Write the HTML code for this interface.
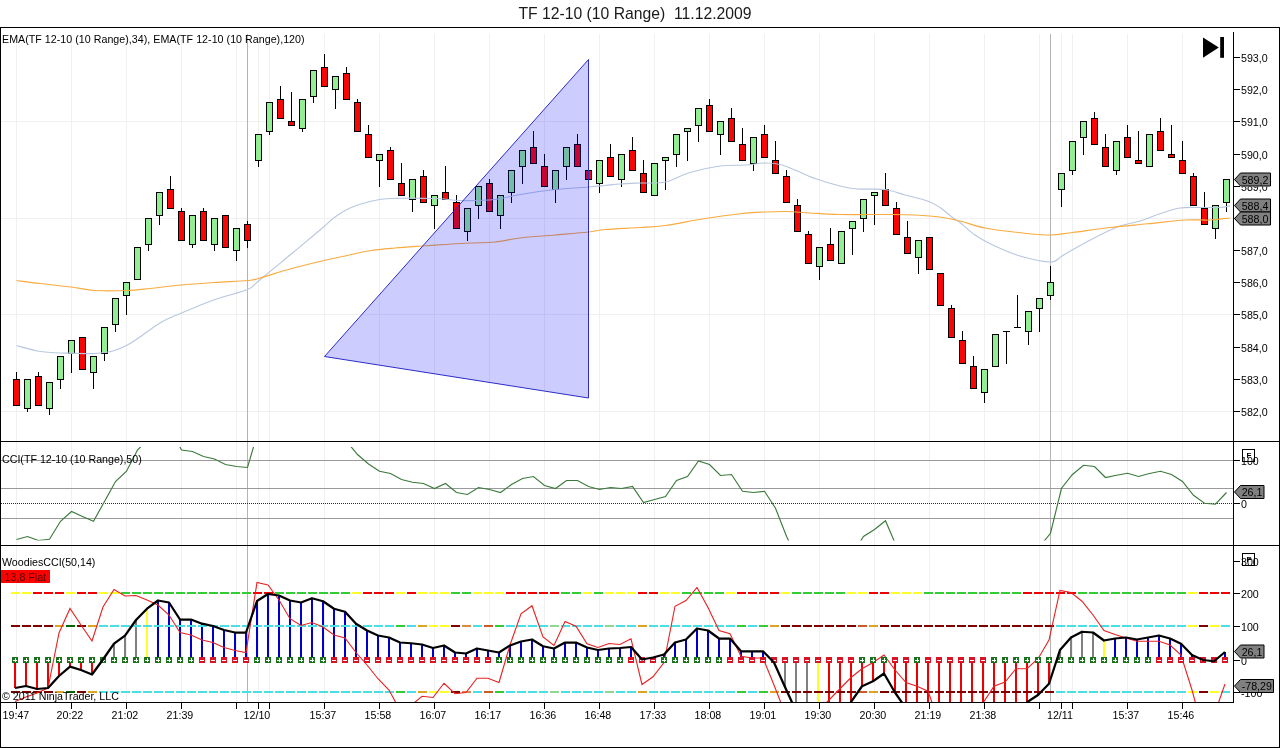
<!DOCTYPE html><html><head><meta charset="utf-8"><title>TF 12-10 (10 Range) 11.12.2009</title>
<style>html,body{margin:0;padding:0;background:#fff}svg{display:block}text{font-family:"Liberation Sans",Arial,sans-serif;fill:#000}.s{font-size:10.67px}.t{font-size:15.72px;fill:#1a1a1a}.c{shape-rendering:crispEdges}</style></head><body>
<svg width="1280" height="748" viewBox="0 0 1280 748">
<rect width="1280" height="748" fill="#fff"/>
<g class="c" stroke="#f0f0f0" stroke-width="1">
<line x1="16.5" y1="34" x2="16.5" y2="702"/>
<line x1="71.5" y1="34" x2="71.5" y2="702"/>
<line x1="126.5" y1="34" x2="126.5" y2="702"/>
<line x1="181.5" y1="34" x2="181.5" y2="702"/>
<line x1="236.5" y1="34" x2="236.5" y2="702"/>
<line x1="258.5" y1="34" x2="258.5" y2="702"/>
<line x1="269.5" y1="34" x2="269.5" y2="702"/>
<line x1="324.5" y1="34" x2="324.5" y2="702"/>
<line x1="379.5" y1="34" x2="379.5" y2="702"/>
<line x1="434.5" y1="34" x2="434.5" y2="702"/>
<line x1="489.5" y1="34" x2="489.5" y2="702"/>
<line x1="544.5" y1="34" x2="544.5" y2="702"/>
<line x1="599.5" y1="34" x2="599.5" y2="702"/>
<line x1="654.5" y1="34" x2="654.5" y2="702"/>
<line x1="709.5" y1="34" x2="709.5" y2="702"/>
<line x1="764.5" y1="34" x2="764.5" y2="702"/>
<line x1="819.5" y1="34" x2="819.5" y2="702"/>
<line x1="874.5" y1="34" x2="874.5" y2="702"/>
<line x1="929.5" y1="34" x2="929.5" y2="702"/>
<line x1="984.5" y1="34" x2="984.5" y2="702"/>
<line x1="1039.5" y1="34" x2="1039.5" y2="702"/>
<line x1="1061.5" y1="34" x2="1061.5" y2="702"/>
<line x1="1072.5" y1="34" x2="1072.5" y2="702"/>
<line x1="1127.5" y1="34" x2="1127.5" y2="702"/>
<line x1="1182.5" y1="34" x2="1182.5" y2="702"/>
<line x1="1" y1="121.5" x2="1233" y2="121.5"/>
<line x1="1" y1="218.5" x2="1233" y2="218.5"/>
<line x1="1" y1="314.5" x2="1233" y2="314.5"/>
<line x1="1" y1="411.5" x2="1233" y2="411.5"/>
</g>
<g class="c" stroke="#b4b4b4" stroke-width="1">
<line x1="247.5" y1="34" x2="247.5" y2="702"/>
<line x1="1050.5" y1="34" x2="1050.5" y2="702"/>
</g>
<g class="c" stroke="#000" stroke-width="1">
<line x1="16.5" y1="372.0" x2="16.5" y2="379.5"/>
<rect x="13.5" y="379.5" width="6" height="26.0" fill="#fb0404"/>
<line x1="27.5" y1="408.5" x2="27.5" y2="412.0"/>
<rect x="24.5" y="379.5" width="6" height="29.0" fill="#92ee92"/>
<line x1="38.5" y1="372.0" x2="38.5" y2="376.5"/>
<rect x="35.5" y="376.5" width="6" height="29.0" fill="#fb0404"/>
<line x1="49.5" y1="408.5" x2="49.5" y2="415.0"/>
<rect x="46.5" y="382.5" width="6" height="26.0" fill="#92ee92"/>
<line x1="60.5" y1="379.5" x2="60.5" y2="389.0"/>
<rect x="57.5" y="356.5" width="6" height="23.0" fill="#92ee92"/>
<line x1="71.5" y1="353.5" x2="71.5" y2="373.0"/>
<rect x="68.5" y="340.5" width="6" height="13.0" fill="#92ee92"/>
<rect x="79.5" y="337.5" width="6" height="32.0" fill="#fb0404"/>
<line x1="93.5" y1="372.5" x2="93.5" y2="389.0"/>
<rect x="90.5" y="356.5" width="6" height="16.0" fill="#92ee92"/>
<line x1="104.5" y1="353.5" x2="104.5" y2="361.0"/>
<rect x="101.5" y="327.5" width="6" height="26.0" fill="#92ee92"/>
<line x1="115.5" y1="324.5" x2="115.5" y2="332.0"/>
<rect x="112.5" y="298.5" width="6" height="26.0" fill="#92ee92"/>
<line x1="126.5" y1="295.5" x2="126.5" y2="315.0"/>
<rect x="123.5" y="282.5" width="6" height="13.0" fill="#92ee92"/>
<rect x="134.5" y="247.5" width="6" height="32.0" fill="#92ee92"/>
<line x1="148.5" y1="244.5" x2="148.5" y2="251.0"/>
<rect x="145.5" y="218.5" width="6" height="26.0" fill="#92ee92"/>
<line x1="159.5" y1="215.5" x2="159.5" y2="225.0"/>
<rect x="156.5" y="192.5" width="6" height="23.0" fill="#92ee92"/>
<line x1="170.5" y1="175.5" x2="170.5" y2="189.5"/>
<rect x="167.5" y="189.5" width="6" height="19.0" fill="#fb0404"/>
<line x1="181.5" y1="208.0" x2="181.5" y2="211.5"/>
<rect x="178.5" y="211.5" width="6" height="29.0" fill="#fb0404"/>
<line x1="192.5" y1="244.5" x2="192.5" y2="248.0"/>
<rect x="189.5" y="215.5" width="6" height="29.0" fill="#92ee92"/>
<line x1="203.5" y1="208.0" x2="203.5" y2="211.5"/>
<rect x="200.5" y="211.5" width="6" height="29.0" fill="#fb0404"/>
<line x1="214.5" y1="244.5" x2="214.5" y2="251.0"/>
<rect x="211.5" y="218.5" width="6" height="26.0" fill="#92ee92"/>
<rect x="222.5" y="215.5" width="6" height="32.0" fill="#fb0404"/>
<line x1="236.5" y1="250.5" x2="236.5" y2="261.0"/>
<rect x="233.5" y="228.5" width="6" height="22.0" fill="#92ee92"/>
<line x1="247.5" y1="221.0" x2="247.5" y2="224.5"/>
<line x1="247.5" y1="240.5" x2="247.5" y2="248.0"/>
<rect x="244.5" y="224.5" width="6" height="16.0" fill="#fb0404"/>
<line x1="258.5" y1="160.5" x2="258.5" y2="167.0"/>
<rect x="255.5" y="134.5" width="6" height="26.0" fill="#92ee92"/>
<line x1="269.5" y1="131.5" x2="269.5" y2="135.0"/>
<rect x="266.5" y="102.5" width="6" height="29.0" fill="#92ee92"/>
<line x1="280.5" y1="85.5" x2="280.5" y2="99.5"/>
<rect x="277.5" y="99.5" width="6" height="19.0" fill="#fb0404"/>
<line x1="291.5" y1="92.0" x2="291.5" y2="121.5"/>
<rect x="288.5" y="121.5" width="6" height="4.0" fill="#fb0404"/>
<line x1="302.5" y1="128.5" x2="302.5" y2="132.0"/>
<rect x="299.5" y="99.5" width="6" height="29.0" fill="#92ee92"/>
<line x1="313.5" y1="96.5" x2="313.5" y2="103.0"/>
<rect x="310.5" y="70.5" width="6" height="26.0" fill="#92ee92"/>
<line x1="324.5" y1="54.0" x2="324.5" y2="67.5"/>
<rect x="321.5" y="67.5" width="6" height="19.0" fill="#fb0404"/>
<line x1="335.5" y1="89.5" x2="335.5" y2="109.0"/>
<rect x="332.5" y="76.5" width="6" height="13.0" fill="#92ee92"/>
<line x1="346.5" y1="66.5" x2="346.5" y2="73.5"/>
<rect x="343.5" y="73.5" width="6" height="26.0" fill="#fb0404"/>
<line x1="357.5" y1="99.0" x2="357.5" y2="102.5"/>
<rect x="354.5" y="102.5" width="6" height="29.0" fill="#fb0404"/>
<line x1="368.5" y1="124.5" x2="368.5" y2="134.5"/>
<rect x="365.5" y="134.5" width="6" height="23.0" fill="#fb0404"/>
<line x1="379.5" y1="160.5" x2="379.5" y2="187.0"/>
<rect x="376.5" y="154.5" width="6" height="6.0" fill="#92ee92"/>
<line x1="390.5" y1="147.0" x2="390.5" y2="150.5"/>
<rect x="387.5" y="150.5" width="6" height="29.0" fill="#fb0404"/>
<line x1="401.5" y1="163.0" x2="401.5" y2="183.5"/>
<rect x="398.5" y="183.5" width="6" height="12.0" fill="#fb0404"/>
<line x1="412.5" y1="199.5" x2="412.5" y2="212.0"/>
<rect x="409.5" y="179.5" width="6" height="20.0" fill="#92ee92"/>
<line x1="423.5" y1="169.5" x2="423.5" y2="176.5"/>
<rect x="420.5" y="176.5" width="6" height="26.0" fill="#fb0404"/>
<line x1="434.5" y1="205.5" x2="434.5" y2="229.0"/>
<rect x="431.5" y="195.5" width="6" height="10.0" fill="#92ee92"/>
<line x1="445.5" y1="165.5" x2="445.5" y2="192.5"/>
<rect x="442.5" y="192.5" width="6" height="7.0" fill="#fb0404"/>
<line x1="456.5" y1="195.0" x2="456.5" y2="202.5"/>
<rect x="453.5" y="202.5" width="6" height="26.0" fill="#fb0404"/>
<line x1="467.5" y1="231.5" x2="467.5" y2="241.0"/>
<rect x="464.5" y="208.5" width="6" height="23.0" fill="#92ee92"/>
<line x1="478.5" y1="205.5" x2="478.5" y2="219.0"/>
<rect x="475.5" y="186.5" width="6" height="19.0" fill="#92ee92"/>
<line x1="489.5" y1="178.5" x2="489.5" y2="183.5"/>
<rect x="486.5" y="183.5" width="6" height="28.0" fill="#fb0404"/>
<line x1="500.5" y1="215.5" x2="500.5" y2="229.0"/>
<rect x="497.5" y="195.5" width="6" height="20.0" fill="#92ee92"/>
<line x1="511.5" y1="192.5" x2="511.5" y2="203.0"/>
<rect x="508.5" y="170.5" width="6" height="22.0" fill="#92ee92"/>
<line x1="522.5" y1="166.5" x2="522.5" y2="184.0"/>
<rect x="519.5" y="150.5" width="6" height="16.0" fill="#92ee92"/>
<line x1="533.5" y1="130.5" x2="533.5" y2="147.5"/>
<rect x="530.5" y="147.5" width="6" height="16.0" fill="#fb0404"/>
<line x1="544.5" y1="154.0" x2="544.5" y2="166.5"/>
<rect x="541.5" y="166.5" width="6" height="20.0" fill="#fb0404"/>
<line x1="555.5" y1="189.5" x2="555.5" y2="203.0"/>
<rect x="552.5" y="170.5" width="6" height="19.0" fill="#92ee92"/>
<line x1="566.5" y1="166.5" x2="566.5" y2="180.0"/>
<rect x="563.5" y="147.5" width="6" height="19.0" fill="#92ee92"/>
<line x1="577.5" y1="134.0" x2="577.5" y2="144.5"/>
<rect x="574.5" y="144.5" width="6" height="22.0" fill="#fb0404"/>
<rect x="585.5" y="170.5" width="6" height="9.0" fill="#fb0404"/>
<line x1="599.5" y1="183.5" x2="599.5" y2="193.0"/>
<rect x="596.5" y="160.5" width="6" height="23.0" fill="#92ee92"/>
<line x1="610.5" y1="143.5" x2="610.5" y2="157.5"/>
<rect x="607.5" y="157.5" width="6" height="19.0" fill="#fb0404"/>
<line x1="621.5" y1="179.5" x2="621.5" y2="187.0"/>
<rect x="618.5" y="154.5" width="6" height="25.0" fill="#92ee92"/>
<line x1="632.5" y1="136.5" x2="632.5" y2="150.5"/>
<rect x="629.5" y="150.5" width="6" height="20.0" fill="#fb0404"/>
<line x1="643.5" y1="159.5" x2="643.5" y2="173.5"/>
<rect x="640.5" y="173.5" width="6" height="19.0" fill="#fb0404"/>
<rect x="651.5" y="163.5" width="6" height="32.0" fill="#92ee92"/>
<line x1="665.5" y1="160.5" x2="665.5" y2="190.0"/>
<rect x="662.5" y="157.5" width="6" height="3.0" fill="#92ee92"/>
<line x1="676.5" y1="154.5" x2="676.5" y2="167.0"/>
<rect x="673.5" y="134.5" width="6" height="20.0" fill="#92ee92"/>
<line x1="687.5" y1="131.5" x2="687.5" y2="161.0"/>
<rect x="684.5" y="128.5" width="6" height="3.0" fill="#92ee92"/>
<line x1="698.5" y1="125.5" x2="698.5" y2="142.0"/>
<rect x="695.5" y="108.5" width="6" height="17.0" fill="#92ee92"/>
<line x1="709.5" y1="98.5" x2="709.5" y2="105.5"/>
<rect x="706.5" y="105.5" width="6" height="26.0" fill="#fb0404"/>
<line x1="720.5" y1="134.5" x2="720.5" y2="155.0"/>
<rect x="717.5" y="121.5" width="6" height="13.0" fill="#92ee92"/>
<line x1="731.5" y1="108.0" x2="731.5" y2="118.5"/>
<rect x="728.5" y="118.5" width="6" height="23.0" fill="#fb0404"/>
<line x1="742.5" y1="127.5" x2="742.5" y2="144.5"/>
<rect x="739.5" y="144.5" width="6" height="16.0" fill="#fb0404"/>
<line x1="753.5" y1="163.5" x2="753.5" y2="171.0"/>
<rect x="750.5" y="137.5" width="6" height="26.0" fill="#92ee92"/>
<line x1="764.5" y1="124.5" x2="764.5" y2="134.5"/>
<rect x="761.5" y="134.5" width="6" height="23.0" fill="#fb0404"/>
<line x1="775.5" y1="140.5" x2="775.5" y2="160.5"/>
<rect x="772.5" y="160.5" width="6" height="13.0" fill="#fb0404"/>
<line x1="786.5" y1="169.5" x2="786.5" y2="176.5"/>
<rect x="783.5" y="176.5" width="6" height="26.0" fill="#fb0404"/>
<line x1="797.5" y1="199.0" x2="797.5" y2="205.5"/>
<rect x="794.5" y="205.5" width="6" height="26.0" fill="#fb0404"/>
<line x1="808.5" y1="231.0" x2="808.5" y2="234.5"/>
<rect x="805.5" y="234.5" width="6" height="29.0" fill="#fb0404"/>
<line x1="819.5" y1="266.5" x2="819.5" y2="280.0"/>
<rect x="816.5" y="247.5" width="6" height="19.0" fill="#92ee92"/>
<line x1="830.5" y1="228.0" x2="830.5" y2="244.5"/>
<rect x="827.5" y="244.5" width="6" height="16.0" fill="#fb0404"/>
<rect x="838.5" y="231.5" width="6" height="32.0" fill="#92ee92"/>
<line x1="852.5" y1="228.5" x2="852.5" y2="254.5"/>
<rect x="849.5" y="221.5" width="6" height="7.0" fill="#92ee92"/>
<line x1="863.5" y1="218.5" x2="863.5" y2="232.0"/>
<rect x="860.5" y="199.5" width="6" height="19.0" fill="#92ee92"/>
<line x1="874.5" y1="195.5" x2="874.5" y2="225.0"/>
<rect x="871.5" y="192.5" width="6" height="3.0" fill="#92ee92"/>
<line x1="885.5" y1="172.5" x2="885.5" y2="189.5"/>
<rect x="882.5" y="189.5" width="6" height="16.0" fill="#fb0404"/>
<line x1="896.5" y1="202.0" x2="896.5" y2="208.5"/>
<rect x="893.5" y="208.5" width="6" height="26.0" fill="#fb0404"/>
<line x1="907.5" y1="221.0" x2="907.5" y2="237.5"/>
<rect x="904.5" y="237.5" width="6" height="16.0" fill="#fb0404"/>
<line x1="918.5" y1="257.5" x2="918.5" y2="274.0"/>
<rect x="915.5" y="240.5" width="6" height="17.0" fill="#92ee92"/>
<rect x="926.5" y="237.5" width="6" height="32.0" fill="#fb0404"/>
<rect x="937.5" y="273.5" width="6" height="32.0" fill="#fb0404"/>
<line x1="951.5" y1="304.5" x2="951.5" y2="308.5"/>
<rect x="948.5" y="308.5" width="6" height="29.0" fill="#fb0404"/>
<line x1="962.5" y1="330.5" x2="962.5" y2="340.5"/>
<rect x="959.5" y="340.5" width="6" height="23.0" fill="#fb0404"/>
<line x1="973.5" y1="355.5" x2="973.5" y2="366.5"/>
<rect x="970.5" y="366.5" width="6" height="22.0" fill="#fb0404"/>
<line x1="984.5" y1="392.5" x2="984.5" y2="402.5"/>
<rect x="981.5" y="369.5" width="6" height="23.0" fill="#92ee92"/>
<rect x="992.5" y="334.5" width="6" height="32.0" fill="#92ee92"/>
<line x1="1006.5" y1="331.5" x2="1006.5" y2="364.0"/>
<line x1="1003.0" y1="331.5" x2="1010.0" y2="331.5"/>
<line x1="1017.5" y1="294.5" x2="1017.5" y2="327.5"/>
<line x1="1014.0" y1="327.5" x2="1021.0" y2="327.5"/>
<line x1="1028.5" y1="331.5" x2="1028.5" y2="344.5"/>
<rect x="1025.5" y="311.5" width="6" height="20.0" fill="#92ee92"/>
<line x1="1039.5" y1="308.5" x2="1039.5" y2="332.0"/>
<rect x="1036.5" y="298.5" width="6" height="10.0" fill="#92ee92"/>
<line x1="1050.5" y1="265.5" x2="1050.5" y2="282.5"/>
<line x1="1050.5" y1="295.5" x2="1050.5" y2="299.5"/>
<rect x="1047.5" y="282.5" width="6" height="13.0" fill="#92ee92"/>
<line x1="1061.5" y1="189.5" x2="1061.5" y2="206.5"/>
<rect x="1058.5" y="173.5" width="6" height="16.0" fill="#92ee92"/>
<line x1="1072.5" y1="170.5" x2="1072.5" y2="174.5"/>
<rect x="1069.5" y="141.5" width="6" height="29.0" fill="#92ee92"/>
<line x1="1083.5" y1="137.5" x2="1083.5" y2="155.0"/>
<rect x="1080.5" y="121.5" width="6" height="16.0" fill="#92ee92"/>
<line x1="1094.5" y1="111.5" x2="1094.5" y2="118.5"/>
<rect x="1091.5" y="118.5" width="6" height="26.0" fill="#fb0404"/>
<line x1="1105.5" y1="133.5" x2="1105.5" y2="147.5"/>
<rect x="1102.5" y="147.5" width="6" height="19.0" fill="#fb0404"/>
<line x1="1116.5" y1="170.5" x2="1116.5" y2="174.5"/>
<rect x="1113.5" y="141.5" width="6" height="29.0" fill="#92ee92"/>
<line x1="1127.5" y1="124.5" x2="1127.5" y2="137.5"/>
<rect x="1124.5" y="137.5" width="6" height="20.0" fill="#fb0404"/>
<line x1="1138.5" y1="130.5" x2="1138.5" y2="160.5"/>
<rect x="1135.5" y="160.5" width="6" height="3.0" fill="#fb0404"/>
<rect x="1146.5" y="134.5" width="6" height="32.0" fill="#92ee92"/>
<line x1="1160.5" y1="117.5" x2="1160.5" y2="131.5"/>
<rect x="1157.5" y="131.5" width="6" height="19.0" fill="#fb0404"/>
<line x1="1171.5" y1="124.5" x2="1171.5" y2="154.5"/>
<rect x="1168.5" y="154.5" width="6" height="3.0" fill="#fb0404"/>
<line x1="1182.5" y1="140.5" x2="1182.5" y2="160.5"/>
<rect x="1179.5" y="160.5" width="6" height="13.0" fill="#fb0404"/>
<line x1="1193.5" y1="172.5" x2="1193.5" y2="176.5"/>
<rect x="1190.5" y="176.5" width="6" height="29.0" fill="#fb0404"/>
<line x1="1204.5" y1="191.5" x2="1204.5" y2="208.5"/>
<rect x="1201.5" y="208.5" width="6" height="16.0" fill="#fb0404"/>
<line x1="1215.5" y1="228.5" x2="1215.5" y2="238.5"/>
<rect x="1212.5" y="205.5" width="6" height="23.0" fill="#92ee92"/>
<line x1="1226.5" y1="202.5" x2="1226.5" y2="212.0"/>
<rect x="1223.5" y="179.5" width="6" height="23.0" fill="#92ee92"/>
</g>
<path fill="none" stroke="#b8c7e0" stroke-width="1.1" d="M16.5,345.5C20.00,346.42 30.17,349.75 37.5,351C44.83,352.25 50.08,352.67 60.5,353C70.92,353.33 89.00,354.25 100,353C111.00,351.75 116.50,350.50 126.5,345.5C136.50,340.50 150.83,328.42 160,323C169.17,317.58 172.33,316.92 181.5,313C190.67,309.08 204.00,303.42 215,299.5C226.00,295.58 240.25,292.58 247.5,289.5C254.75,286.42 251.42,286.75 258.5,281C265.58,275.25 279.75,263.50 290,255C300.25,246.50 312.50,236.33 320,230C327.50,223.67 330.00,220.67 335,217C340.00,213.33 344.17,210.58 350,208C355.83,205.42 363.33,203.08 370,201.5C376.67,199.92 379.17,199.00 390,198.5C400.83,198.00 423.33,198.17 435,198.5C446.67,198.83 450.00,200.33 460,200.5C470.00,200.67 485.00,200.50 495,199.5C505.00,198.50 510.00,196.17 520,194.5C530.00,192.83 543.58,190.75 555,189.5C566.42,188.25 580.17,187.67 588.5,187C596.83,186.33 599.75,186.00 605,185.5C610.25,185.00 614.17,184.42 620,184C625.83,183.58 632.50,183.33 640,183C647.50,182.67 656.67,183.75 665,182C673.33,180.25 680.83,175.17 690,172.5C699.17,169.83 710.83,167.25 720,166C729.17,164.75 737.50,165.50 745,165C752.50,164.50 759.17,163.08 765,163C770.83,162.92 775.00,163.33 780,164.5C785.00,165.67 789.17,167.67 795,170C800.83,172.33 807.50,175.83 815,178.5C822.50,181.17 832.92,184.25 840,186C847.08,187.75 850.00,188.42 857.5,189C865.00,189.58 877.08,188.50 885,189.5C892.92,190.50 897.92,193.08 905,195C912.08,196.92 921.67,198.92 927.5,201C933.33,203.08 935.83,204.75 940,207.5C944.17,210.25 949.17,215.00 952.5,217.5C955.83,220.00 956.25,219.58 960,222.5C963.75,225.42 969.17,231.08 975,235C980.83,238.92 987.50,242.50 995,246C1002.50,249.50 1010.75,253.33 1020,256C1029.25,258.67 1043.50,262.00 1050.5,262C1057.50,262.00 1057.50,258.50 1062,256C1066.50,253.50 1071.17,250.50 1077.5,247C1083.83,243.50 1092.92,238.50 1100,235C1107.08,231.50 1113.33,228.33 1120,226C1126.67,223.67 1133.33,223.05 1140,221C1146.67,218.95 1153.33,215.87 1160,213.7C1166.67,211.53 1173.33,209.03 1180,208C1186.67,206.97 1193.33,207.58 1200,207.5C1206.67,207.42 1215.00,207.79 1220,207.5C1225.00,207.21 1228.33,206.04 1230,205.75"/>
<path fill="none" stroke="#f7ab40" stroke-width="1.15" d="M16.5,280.5C20.42,281.00 30.83,282.42 40,283.5C49.17,284.58 62.33,285.83 71.5,287C80.67,288.17 85.83,289.92 95,290.5C104.17,291.08 117.33,290.83 126.5,290.5C135.67,290.17 140.83,289.42 150,288.5C159.17,287.58 170.67,286.00 181.5,285C192.33,284.00 204.00,283.25 215,282.5C226.00,281.75 240.25,281.17 247.5,280.5C254.75,279.83 251.42,280.42 258.5,278.5C265.58,276.58 279.75,271.83 290,269C300.25,266.17 310.83,263.67 320,261.5C329.17,259.33 336.67,257.80 345,256C353.33,254.20 361.67,252.03 370,250.7C378.33,249.37 386.25,248.78 395,248C403.75,247.22 414.17,246.58 422.5,246C430.83,245.42 437.08,245.00 445,244.5C452.92,244.00 461.67,243.42 470,243C478.33,242.58 486.67,242.83 495,242C503.33,241.17 510.00,239.17 520,238C530.00,236.83 543.58,236.00 555,235C566.42,234.00 580.17,232.92 588.5,232C596.83,231.08 596.42,230.25 605,229.5C613.58,228.75 630.00,228.17 640,227.5C650.00,226.83 654.58,226.92 665,225.5C675.42,224.08 690.00,220.97 702.5,219C715.00,217.03 729.58,214.87 740,213.7C750.42,212.53 757.08,212.37 765,212C772.92,211.63 780.00,211.33 787.5,211.5C795.00,211.67 801.25,212.50 810,213C818.75,213.50 826.67,214.25 840,214.5C853.33,214.75 877.50,214.42 890,214.5C902.50,214.58 906.67,214.58 915,215C923.33,215.42 932.50,216.00 940,217C947.50,218.00 952.50,219.17 960,221C967.50,222.83 974.58,226.00 985,228C995.42,230.00 1011.58,231.83 1022.5,233C1033.42,234.17 1042.17,235.08 1050.5,235C1058.83,234.92 1062.58,233.75 1072.5,232.5C1082.42,231.25 1097.50,228.95 1110,227.5C1122.50,226.05 1135.00,225.05 1147.5,223.8C1160.00,222.55 1174.58,220.63 1185,220C1195.42,219.37 1202.50,220.33 1210,220C1217.50,219.67 1226.67,218.33 1230,218"/>
<polygon points="324.5,356.5 588.5,59.5 588.5,398" fill="rgba(0,0,255,0.2)" stroke="#2c2cc8" stroke-width="1" stroke-linejoin="round"/>
<polygon points="1203,37.5 1218.8,47.6 1203,57.7" fill="#000"/><rect x="1220.2" y="37" width="3.8" height="20.8" fill="#000"/>
<g class="c" stroke="#9a9a9a" stroke-width="1">
<line x1="1" y1="460.5" x2="1233" y2="460.5"/>
<line x1="1" y1="488.5" x2="1233" y2="488.5"/>
<line x1="1" y1="518.5" x2="1233" y2="518.5"/>
</g>
<line class="c" x1="1" y1="503.5" x2="1233" y2="503.5" stroke="#7a0a0a" stroke-width="1" stroke-dasharray="1 1"/>
<clipPath id="k1"><rect x="0" y="447" width="1233" height="93.5"/></clipPath>
<polyline clip-path="url(#k1)" fill="none" stroke="#3c7a3c" stroke-width="1.15" points="16.5,539.5 27.5,536.5 38.5,540.5 49.5,539.25 60.5,521.25 71.5,511.5 82.5,516.5 93.5,521.25 104.5,501.5 115.5,481.5 126.5,471.25 137.5,450 148.5,439 159.5,430 170.5,428 181.5,450 192.5,451.5 203.5,456.5 214.5,459 225.5,464.5 236.5,466.5 247.5,467.5 258.5,430 269.5,420 280.5,420 291.5,420 302.5,420 313.5,420 324.5,420 335.5,425 346.5,441.3 357.5,454.5 368.5,464 379.5,471.25 390.5,473.5 401.5,479.5 412.5,482.25 423.5,483.5 434.5,488.5 445.5,483.5 456.5,492.5 467.5,494.5 478.5,487.5 489.5,489.5 500.5,492.5 511.5,484.5 522.5,478.5 533.5,476.5 544.5,485.5 555.5,488.5 566.5,480.5 577.5,480.5 588.5,486.5 599.5,489.5 610.5,487.5 621.5,488.5 632.5,486.5 643.5,502.5 654.5,499.5 665.5,496.5 676.5,480.5 687.5,476.5 698.5,461 709.5,464.5 720.5,475.5 731.5,474.5 742.5,491.25 753.5,492.5 764.5,491.25 775.5,508.25 786.5,536.2 797.5,560 808.5,570 819.5,570 830.5,570 841.5,565 852.5,553.6 863.5,536.5 874.5,529.5 885.5,520.75 896.5,546.4 907.5,570 918.5,570 929.5,570 940.5,570 951.5,570 962.5,570 973.5,570 984.5,570 995.5,570 1006.5,570 1017.5,570 1028.5,560 1039.5,546.8 1050.5,533.25 1061.5,488.25 1072.5,474.5 1083.5,465.25 1094.5,466.5 1105.5,477.5 1116.5,475.25 1127.5,473.25 1138.5,476.5 1149.5,473.5 1160.5,471.25 1171.5,474.5 1182.5,481.5 1193.5,495.25 1204.5,503.25 1215.5,504.25 1226.5,492.5"/>
<clipPath id="k2"><rect x="0" y="547" width="1233" height="155"/></clipPath>
<g class="c" clip-path="url(#k2)">
<rect x="14" y="660" width="2" height="28" fill="#ee0000"/>
<rect x="25" y="660" width="2" height="26" fill="#ee0000"/>
<rect x="36" y="660" width="2" height="29" fill="#ee0000"/>
<rect x="47" y="660" width="2" height="28" fill="#ee0000"/>
<rect x="58" y="660" width="2" height="16" fill="#ee0000"/>
<rect x="69" y="660" width="2" height="6.7000000000000455" fill="#ee0000"/>
<rect x="80" y="660" width="2" height="10" fill="#ee0000"/>
<rect x="91" y="660" width="2" height="14.5" fill="#ee0000"/>
<rect x="113" y="643.7" width="2" height="16.299999999999955" fill="#808080"/>
<rect x="124" y="635.7" width="2" height="24.299999999999955" fill="#808080"/>
<rect x="135" y="620" width="2" height="40" fill="#808080"/>
<rect x="146" y="608.7" width="2" height="51.299999999999955" fill="#ffff28"/>
<rect x="157" y="600.5" width="2" height="59.5" fill="#0000cd"/>
<rect x="168" y="602.5" width="2" height="57.5" fill="#0000cd"/>
<rect x="179" y="619.5" width="2" height="40.5" fill="#0000cd"/>
<rect x="190" y="619.5" width="2" height="40.5" fill="#0000cd"/>
<rect x="201" y="623.7" width="2" height="36.299999999999955" fill="#0000cd"/>
<rect x="212" y="626" width="2" height="34" fill="#0000cd"/>
<rect x="223" y="630" width="2" height="30" fill="#0000cd"/>
<rect x="234" y="632.5" width="2" height="27.5" fill="#0000cd"/>
<rect x="245" y="632.5" width="2" height="27.5" fill="#0000cd"/>
<rect x="256" y="601" width="2" height="59" fill="#0000cd"/>
<rect x="267" y="594" width="2" height="66" fill="#0000cd"/>
<rect x="278" y="595.5" width="2" height="64.5" fill="#0000cd"/>
<rect x="289" y="600.5" width="2" height="59.5" fill="#0000cd"/>
<rect x="300" y="602.5" width="2" height="57.5" fill="#0000cd"/>
<rect x="311" y="598.25" width="2" height="61.75" fill="#0000cd"/>
<rect x="322" y="601.25" width="2" height="58.75" fill="#0000cd"/>
<rect x="333" y="608.75" width="2" height="51.25" fill="#0000cd"/>
<rect x="344" y="611.75" width="2" height="48.25" fill="#0000cd"/>
<rect x="355" y="623.75" width="2" height="36.25" fill="#0000cd"/>
<rect x="366" y="630.5" width="2" height="29.5" fill="#0000cd"/>
<rect x="377" y="635.5" width="2" height="24.5" fill="#0000cd"/>
<rect x="388" y="637.5" width="2" height="22.5" fill="#0000cd"/>
<rect x="399" y="642.5" width="2" height="17.5" fill="#0000cd"/>
<rect x="410" y="643.25" width="2" height="16.75" fill="#0000cd"/>
<rect x="421" y="644.5" width="2" height="15.5" fill="#0000cd"/>
<rect x="432" y="648" width="2" height="12" fill="#0000cd"/>
<rect x="443" y="645.5" width="2" height="14.5" fill="#0000cd"/>
<rect x="454" y="652.5" width="2" height="7.5" fill="#0000cd"/>
<rect x="465" y="653.5" width="2" height="6.5" fill="#0000cd"/>
<rect x="476" y="648.5" width="2" height="11.5" fill="#0000cd"/>
<rect x="487" y="650.5" width="2" height="9.5" fill="#0000cd"/>
<rect x="498" y="652.5" width="2" height="7.5" fill="#0000cd"/>
<rect x="509" y="645.5" width="2" height="14.5" fill="#0000cd"/>
<rect x="520" y="641.5" width="2" height="18.5" fill="#0000cd"/>
<rect x="531" y="639.5" width="2" height="20.5" fill="#0000cd"/>
<rect x="542" y="646.25" width="2" height="13.75" fill="#0000cd"/>
<rect x="553" y="648.5" width="2" height="11.5" fill="#0000cd"/>
<rect x="564" y="642.5" width="2" height="17.5" fill="#0000cd"/>
<rect x="575" y="642.5" width="2" height="17.5" fill="#0000cd"/>
<rect x="586" y="647.5" width="2" height="12.5" fill="#0000cd"/>
<rect x="597" y="650" width="2" height="10" fill="#0000cd"/>
<rect x="608" y="648.5" width="2" height="11.5" fill="#0000cd"/>
<rect x="619" y="648" width="2" height="12" fill="#0000cd"/>
<rect x="630" y="647" width="2" height="13" fill="#0000cd"/>
<rect x="641" y="659.5" width="2" height="0.5" fill="#0000cd"/>
<rect x="652" y="657.5" width="2" height="2.5" fill="#0000cd"/>
<rect x="663" y="654.5" width="2" height="5.5" fill="#0000cd"/>
<rect x="674" y="642.5" width="2" height="17.5" fill="#0000cd"/>
<rect x="685" y="639.5" width="2" height="20.5" fill="#0000cd"/>
<rect x="696" y="628.5" width="2" height="31.5" fill="#0000cd"/>
<rect x="707" y="630.5" width="2" height="29.5" fill="#0000cd"/>
<rect x="718" y="638.5" width="2" height="21.5" fill="#0000cd"/>
<rect x="729" y="638.5" width="2" height="21.5" fill="#0000cd"/>
<rect x="740" y="651.25" width="2" height="8.75" fill="#0000cd"/>
<rect x="751" y="651.25" width="2" height="8.75" fill="#0000cd"/>
<rect x="762" y="651.25" width="2" height="8.75" fill="#0000cd"/>
<rect x="784" y="660" width="2" height="27" fill="#808080"/>
<rect x="795" y="660" width="2" height="51" fill="#808080"/>
<rect x="806" y="660" width="2" height="75" fill="#808080"/>
<rect x="817" y="660" width="2" height="100" fill="#ffff28"/>
<rect x="828" y="660" width="2" height="100" fill="#ee0000"/>
<rect x="839" y="660" width="2" height="90" fill="#ee0000"/>
<rect x="850" y="660" width="2" height="42" fill="#ee0000"/>
<rect x="861" y="660" width="2" height="26.25" fill="#ee0000"/>
<rect x="872" y="660" width="2" height="21.25" fill="#ee0000"/>
<rect x="883" y="660" width="2" height="13.5" fill="#ee0000"/>
<rect x="894" y="660" width="2" height="32.5" fill="#ee0000"/>
<rect x="905" y="660" width="2" height="48.39999999999998" fill="#ee0000"/>
<rect x="916" y="660" width="2" height="70" fill="#ee0000"/>
<rect x="927" y="660" width="2" height="80" fill="#ee0000"/>
<rect x="938" y="660" width="2" height="85" fill="#ee0000"/>
<rect x="949" y="660" width="2" height="85" fill="#ee0000"/>
<rect x="960" y="660" width="2" height="85" fill="#ee0000"/>
<rect x="971" y="660" width="2" height="80" fill="#ee0000"/>
<rect x="982" y="660" width="2" height="75" fill="#ee0000"/>
<rect x="993" y="660" width="2" height="70" fill="#ee0000"/>
<rect x="1004" y="660" width="2" height="65" fill="#ee0000"/>
<rect x="1015" y="660" width="2" height="55" fill="#ee0000"/>
<rect x="1026" y="660" width="2" height="42.299999999999955" fill="#ee0000"/>
<rect x="1037" y="660" width="2" height="35" fill="#ee0000"/>
<rect x="1048" y="660" width="2" height="23.75" fill="#ee0000"/>
<rect x="1059" y="650" width="2" height="10" fill="#808080"/>
<rect x="1070" y="637.5" width="2" height="22.5" fill="#808080"/>
<rect x="1081" y="631.75" width="2" height="28.25" fill="#808080"/>
<rect x="1092" y="632.5" width="2" height="27.5" fill="#808080"/>
<rect x="1103" y="640.5" width="2" height="19.5" fill="#ffff28"/>
<rect x="1114" y="638.5" width="2" height="21.5" fill="#0000cd"/>
<rect x="1125" y="637.5" width="2" height="22.5" fill="#0000cd"/>
<rect x="1136" y="639.5" width="2" height="20.5" fill="#0000cd"/>
<rect x="1147" y="637.5" width="2" height="22.5" fill="#0000cd"/>
<rect x="1158" y="635.5" width="2" height="24.5" fill="#0000cd"/>
<rect x="1169" y="638.5" width="2" height="21.5" fill="#0000cd"/>
<rect x="1180" y="643.75" width="2" height="16.25" fill="#0000cd"/>
<rect x="1191" y="655" width="2" height="5" fill="#0000cd"/>
<rect x="1224" y="652" width="2" height="8" fill="#0000cd"/>
</g>
<g class="c">
<rect x="11.0" y="592" width="9" height="2" fill="#ffff28"/>
<rect x="11.0" y="625" width="9" height="2" fill="#800000"/>
<rect x="11.0" y="691" width="9" height="2" fill="#800000"/>
<rect x="22.0" y="592" width="9" height="2" fill="#ffff28"/>
<rect x="22.0" y="625" width="9" height="2" fill="#800000"/>
<rect x="22.0" y="691" width="9" height="2" fill="#800000"/>
<rect x="33.0" y="592" width="9" height="2" fill="#ee0000"/>
<rect x="33.0" y="625" width="9" height="2" fill="#800000"/>
<rect x="33.0" y="691" width="9" height="2" fill="#800000"/>
<rect x="44.0" y="592" width="9" height="2" fill="#ee0000"/>
<rect x="44.0" y="625" width="9" height="2" fill="#800000"/>
<rect x="44.0" y="691" width="9" height="2" fill="#800000"/>
<rect x="55.0" y="592" width="9" height="2" fill="#ee0000"/>
<rect x="55.0" y="625" width="9" height="2" fill="#daa520"/>
<rect x="55.0" y="691" width="9" height="2" fill="#daa520"/>
<rect x="66.0" y="592" width="9" height="2" fill="#ffff28"/>
<rect x="66.0" y="625" width="9" height="2" fill="#006400"/>
<rect x="66.0" y="691" width="9" height="2" fill="#006400"/>
<rect x="77.0" y="592" width="9" height="2" fill="#ee0000"/>
<rect x="77.0" y="625" width="9" height="2" fill="#800000"/>
<rect x="77.0" y="691" width="9" height="2" fill="#800000"/>
<rect x="88.0" y="592" width="9" height="2" fill="#ee0000"/>
<rect x="88.0" y="625" width="9" height="2" fill="#daa520"/>
<rect x="88.0" y="691" width="9" height="2" fill="#daa520"/>
<rect x="99.0" y="592" width="9" height="2" fill="#ffff28"/>
<rect x="99.0" y="625" width="9" height="2" fill="#48e0e4"/>
<rect x="99.0" y="691" width="9" height="2" fill="#48e0e4"/>
<rect x="110.0" y="592" width="9" height="2" fill="#ffff28"/>
<rect x="110.0" y="625" width="9" height="2" fill="#48e0e4"/>
<rect x="110.0" y="691" width="9" height="2" fill="#48e0e4"/>
<rect x="121.0" y="592" width="9" height="2" fill="#32cd32"/>
<rect x="121.0" y="625" width="9" height="2" fill="#48e0e4"/>
<rect x="121.0" y="691" width="9" height="2" fill="#48e0e4"/>
<rect x="132.0" y="592" width="9" height="2" fill="#32cd32"/>
<rect x="132.0" y="625" width="9" height="2" fill="#48e0e4"/>
<rect x="132.0" y="691" width="9" height="2" fill="#48e0e4"/>
<rect x="143.0" y="592" width="9" height="2" fill="#32cd32"/>
<rect x="143.0" y="625" width="9" height="2" fill="#48e0e4"/>
<rect x="143.0" y="691" width="9" height="2" fill="#48e0e4"/>
<rect x="154.0" y="592" width="9" height="2" fill="#32cd32"/>
<rect x="154.0" y="625" width="9" height="2" fill="#48e0e4"/>
<rect x="154.0" y="691" width="9" height="2" fill="#48e0e4"/>
<rect x="165.0" y="592" width="9" height="2" fill="#32cd32"/>
<rect x="165.0" y="625" width="9" height="2" fill="#48e0e4"/>
<rect x="165.0" y="691" width="9" height="2" fill="#48e0e4"/>
<rect x="176.0" y="592" width="9" height="2" fill="#32cd32"/>
<rect x="176.0" y="625" width="9" height="2" fill="#48e0e4"/>
<rect x="176.0" y="691" width="9" height="2" fill="#48e0e4"/>
<rect x="187.0" y="592" width="9" height="2" fill="#32cd32"/>
<rect x="187.0" y="625" width="9" height="2" fill="#48e0e4"/>
<rect x="187.0" y="691" width="9" height="2" fill="#48e0e4"/>
<rect x="198.0" y="592" width="9" height="2" fill="#32cd32"/>
<rect x="198.0" y="625" width="9" height="2" fill="#48e0e4"/>
<rect x="198.0" y="691" width="9" height="2" fill="#48e0e4"/>
<rect x="209.0" y="592" width="9" height="2" fill="#32cd32"/>
<rect x="209.0" y="625" width="9" height="2" fill="#48e0e4"/>
<rect x="209.0" y="691" width="9" height="2" fill="#48e0e4"/>
<rect x="220.0" y="592" width="9" height="2" fill="#32cd32"/>
<rect x="220.0" y="625" width="9" height="2" fill="#48e0e4"/>
<rect x="220.0" y="691" width="9" height="2" fill="#48e0e4"/>
<rect x="231.0" y="592" width="9" height="2" fill="#32cd32"/>
<rect x="231.0" y="625" width="9" height="2" fill="#48e0e4"/>
<rect x="231.0" y="691" width="9" height="2" fill="#48e0e4"/>
<rect x="242.0" y="592" width="9" height="2" fill="#32cd32"/>
<rect x="242.0" y="625" width="9" height="2" fill="#48e0e4"/>
<rect x="242.0" y="691" width="9" height="2" fill="#48e0e4"/>
<rect x="253.0" y="592" width="9" height="2" fill="#ee0000"/>
<rect x="253.0" y="625" width="9" height="2" fill="#48e0e4"/>
<rect x="253.0" y="691" width="9" height="2" fill="#48e0e4"/>
<rect x="264.0" y="592" width="9" height="2" fill="#ee0000"/>
<rect x="264.0" y="625" width="9" height="2" fill="#48e0e4"/>
<rect x="264.0" y="691" width="9" height="2" fill="#48e0e4"/>
<rect x="275.0" y="592" width="9" height="2" fill="#32cd32"/>
<rect x="275.0" y="625" width="9" height="2" fill="#48e0e4"/>
<rect x="275.0" y="691" width="9" height="2" fill="#48e0e4"/>
<rect x="286.0" y="592" width="9" height="2" fill="#32cd32"/>
<rect x="286.0" y="625" width="9" height="2" fill="#48e0e4"/>
<rect x="286.0" y="691" width="9" height="2" fill="#48e0e4"/>
<rect x="297.0" y="592" width="9" height="2" fill="#32cd32"/>
<rect x="297.0" y="625" width="9" height="2" fill="#48e0e4"/>
<rect x="297.0" y="691" width="9" height="2" fill="#48e0e4"/>
<rect x="308.0" y="592" width="9" height="2" fill="#32cd32"/>
<rect x="308.0" y="625" width="9" height="2" fill="#48e0e4"/>
<rect x="308.0" y="691" width="9" height="2" fill="#48e0e4"/>
<rect x="319.0" y="592" width="9" height="2" fill="#32cd32"/>
<rect x="319.0" y="625" width="9" height="2" fill="#48e0e4"/>
<rect x="319.0" y="691" width="9" height="2" fill="#48e0e4"/>
<rect x="330.0" y="592" width="9" height="2" fill="#32cd32"/>
<rect x="330.0" y="625" width="9" height="2" fill="#48e0e4"/>
<rect x="330.0" y="691" width="9" height="2" fill="#48e0e4"/>
<rect x="341.0" y="592" width="9" height="2" fill="#32cd32"/>
<rect x="341.0" y="625" width="9" height="2" fill="#48e0e4"/>
<rect x="341.0" y="691" width="9" height="2" fill="#48e0e4"/>
<rect x="352.0" y="592" width="9" height="2" fill="#ffff28"/>
<rect x="352.0" y="625" width="9" height="2" fill="#48e0e4"/>
<rect x="352.0" y="691" width="9" height="2" fill="#48e0e4"/>
<rect x="363.0" y="592" width="9" height="2" fill="#ee0000"/>
<rect x="363.0" y="625" width="9" height="2" fill="#48e0e4"/>
<rect x="363.0" y="691" width="9" height="2" fill="#48e0e4"/>
<rect x="374.0" y="592" width="9" height="2" fill="#ee0000"/>
<rect x="374.0" y="625" width="9" height="2" fill="#48e0e4"/>
<rect x="374.0" y="691" width="9" height="2" fill="#48e0e4"/>
<rect x="385.0" y="592" width="9" height="2" fill="#ee0000"/>
<rect x="385.0" y="625" width="9" height="2" fill="#48e0e4"/>
<rect x="385.0" y="691" width="9" height="2" fill="#48e0e4"/>
<rect x="396.0" y="592" width="9" height="2" fill="#ffff28"/>
<rect x="396.0" y="625" width="9" height="2" fill="#32cd32"/>
<rect x="396.0" y="691" width="9" height="2" fill="#32cd32"/>
<rect x="407.0" y="592" width="9" height="2" fill="#ee0000"/>
<rect x="407.0" y="625" width="9" height="2" fill="#48e0e4"/>
<rect x="407.0" y="691" width="9" height="2" fill="#48e0e4"/>
<rect x="418.0" y="592" width="9" height="2" fill="#ffff28"/>
<rect x="418.0" y="625" width="9" height="2" fill="#daa520"/>
<rect x="418.0" y="691" width="9" height="2" fill="#daa520"/>
<rect x="429.0" y="592" width="9" height="2" fill="#ffff28"/>
<rect x="429.0" y="625" width="9" height="2" fill="#ffff28"/>
<rect x="429.0" y="691" width="9" height="2" fill="#ffff28"/>
<rect x="440.0" y="592" width="9" height="2" fill="#ffff28"/>
<rect x="440.0" y="625" width="9" height="2" fill="#ffff28"/>
<rect x="440.0" y="691" width="9" height="2" fill="#ffff28"/>
<rect x="451.0" y="592" width="9" height="2" fill="#32cd32"/>
<rect x="451.0" y="625" width="9" height="2" fill="#800000"/>
<rect x="451.0" y="691" width="9" height="2" fill="#800000"/>
<rect x="462.0" y="592" width="9" height="2" fill="#32cd32"/>
<rect x="462.0" y="625" width="9" height="2" fill="#d88a48"/>
<rect x="462.0" y="691" width="9" height="2" fill="#d88a48"/>
<rect x="473.0" y="592" width="9" height="2" fill="#ffff28"/>
<rect x="473.0" y="625" width="9" height="2" fill="#48e0e4"/>
<rect x="473.0" y="691" width="9" height="2" fill="#48e0e4"/>
<rect x="484.0" y="592" width="9" height="2" fill="#ffff28"/>
<rect x="484.0" y="625" width="9" height="2" fill="#cc5a24"/>
<rect x="484.0" y="691" width="9" height="2" fill="#cc5a24"/>
<rect x="495.0" y="592" width="9" height="2" fill="#ffff28"/>
<rect x="495.0" y="625" width="9" height="2" fill="#32cd32"/>
<rect x="495.0" y="691" width="9" height="2" fill="#32cd32"/>
<rect x="506.0" y="592" width="9" height="2" fill="#ee0000"/>
<rect x="506.0" y="625" width="9" height="2" fill="#48e0e4"/>
<rect x="506.0" y="691" width="9" height="2" fill="#48e0e4"/>
<rect x="517.0" y="592" width="9" height="2" fill="#ee0000"/>
<rect x="517.0" y="625" width="9" height="2" fill="#48e0e4"/>
<rect x="517.0" y="691" width="9" height="2" fill="#48e0e4"/>
<rect x="528.0" y="592" width="9" height="2" fill="#ee0000"/>
<rect x="528.0" y="625" width="9" height="2" fill="#48e0e4"/>
<rect x="528.0" y="691" width="9" height="2" fill="#48e0e4"/>
<rect x="539.0" y="592" width="9" height="2" fill="#ee0000"/>
<rect x="539.0" y="625" width="9" height="2" fill="#48e0e4"/>
<rect x="539.0" y="691" width="9" height="2" fill="#48e0e4"/>
<rect x="550.0" y="592" width="9" height="2" fill="#ee0000"/>
<rect x="550.0" y="625" width="9" height="2" fill="#90d890"/>
<rect x="550.0" y="691" width="9" height="2" fill="#90d890"/>
<rect x="561.0" y="592" width="9" height="2" fill="#32cd32"/>
<rect x="561.0" y="625" width="9" height="2" fill="#48e0e4"/>
<rect x="561.0" y="691" width="9" height="2" fill="#48e0e4"/>
<rect x="572.0" y="592" width="9" height="2" fill="#32cd32"/>
<rect x="572.0" y="625" width="9" height="2" fill="#48e0e4"/>
<rect x="572.0" y="691" width="9" height="2" fill="#48e0e4"/>
<rect x="583.0" y="592" width="9" height="2" fill="#ffff28"/>
<rect x="583.0" y="625" width="9" height="2" fill="#48e0e4"/>
<rect x="583.0" y="691" width="9" height="2" fill="#48e0e4"/>
<rect x="594.0" y="592" width="9" height="2" fill="#32cd32"/>
<rect x="594.0" y="625" width="9" height="2" fill="#48e0e4"/>
<rect x="594.0" y="691" width="9" height="2" fill="#48e0e4"/>
<rect x="605.0" y="592" width="9" height="2" fill="#ffff28"/>
<rect x="605.0" y="625" width="9" height="2" fill="#90d890"/>
<rect x="605.0" y="691" width="9" height="2" fill="#90d890"/>
<rect x="616.0" y="592" width="9" height="2" fill="#ffff28"/>
<rect x="616.0" y="625" width="9" height="2" fill="#48e0e4"/>
<rect x="616.0" y="691" width="9" height="2" fill="#48e0e4"/>
<rect x="627.0" y="592" width="9" height="2" fill="#ffff28"/>
<rect x="627.0" y="625" width="9" height="2" fill="#48e0e4"/>
<rect x="627.0" y="691" width="9" height="2" fill="#48e0e4"/>
<rect x="638.0" y="592" width="9" height="2" fill="#ee0000"/>
<rect x="638.0" y="625" width="9" height="2" fill="#daa520"/>
<rect x="638.0" y="691" width="9" height="2" fill="#daa520"/>
<rect x="649.0" y="592" width="9" height="2" fill="#ee0000"/>
<rect x="649.0" y="625" width="9" height="2" fill="#48e0e4"/>
<rect x="649.0" y="691" width="9" height="2" fill="#48e0e4"/>
<rect x="660.0" y="592" width="9" height="2" fill="#ffff28"/>
<rect x="660.0" y="625" width="9" height="2" fill="#48e0e4"/>
<rect x="660.0" y="691" width="9" height="2" fill="#48e0e4"/>
<rect x="671.0" y="592" width="9" height="2" fill="#ffff28"/>
<rect x="671.0" y="625" width="9" height="2" fill="#48e0e4"/>
<rect x="671.0" y="691" width="9" height="2" fill="#48e0e4"/>
<rect x="682.0" y="592" width="9" height="2" fill="#32cd32"/>
<rect x="682.0" y="625" width="9" height="2" fill="#48e0e4"/>
<rect x="682.0" y="691" width="9" height="2" fill="#48e0e4"/>
<rect x="693.0" y="592" width="9" height="2" fill="#32cd32"/>
<rect x="693.0" y="625" width="9" height="2" fill="#48e0e4"/>
<rect x="693.0" y="691" width="9" height="2" fill="#48e0e4"/>
<rect x="704.0" y="592" width="9" height="2" fill="#32cd32"/>
<rect x="704.0" y="625" width="9" height="2" fill="#48e0e4"/>
<rect x="704.0" y="691" width="9" height="2" fill="#48e0e4"/>
<rect x="715.0" y="592" width="9" height="2" fill="#32cd32"/>
<rect x="715.0" y="625" width="9" height="2" fill="#48e0e4"/>
<rect x="715.0" y="691" width="9" height="2" fill="#48e0e4"/>
<rect x="726.0" y="592" width="9" height="2" fill="#ffff28"/>
<rect x="726.0" y="625" width="9" height="2" fill="#48e0e4"/>
<rect x="726.0" y="691" width="9" height="2" fill="#48e0e4"/>
<rect x="737.0" y="592" width="9" height="2" fill="#ee0000"/>
<rect x="737.0" y="625" width="9" height="2" fill="#32cd32"/>
<rect x="737.0" y="691" width="9" height="2" fill="#32cd32"/>
<rect x="748.0" y="592" width="9" height="2" fill="#ee0000"/>
<rect x="748.0" y="625" width="9" height="2" fill="#48e0e4"/>
<rect x="748.0" y="691" width="9" height="2" fill="#48e0e4"/>
<rect x="759.0" y="592" width="9" height="2" fill="#ee0000"/>
<rect x="759.0" y="625" width="9" height="2" fill="#32cd32"/>
<rect x="759.0" y="691" width="9" height="2" fill="#32cd32"/>
<rect x="770.0" y="592" width="9" height="2" fill="#ee0000"/>
<rect x="770.0" y="625" width="9" height="2" fill="#daa520"/>
<rect x="770.0" y="691" width="9" height="2" fill="#daa520"/>
<rect x="781.0" y="592" width="9" height="2" fill="#ffff28"/>
<rect x="781.0" y="625" width="9" height="2" fill="#800000"/>
<rect x="781.0" y="691" width="9" height="2" fill="#800000"/>
<rect x="792.0" y="592" width="9" height="2" fill="#32cd32"/>
<rect x="792.0" y="625" width="9" height="2" fill="#800000"/>
<rect x="792.0" y="691" width="9" height="2" fill="#800000"/>
<rect x="803.0" y="592" width="9" height="2" fill="#32cd32"/>
<rect x="803.0" y="625" width="9" height="2" fill="#800000"/>
<rect x="803.0" y="691" width="9" height="2" fill="#800000"/>
<rect x="814.0" y="592" width="9" height="2" fill="#32cd32"/>
<rect x="814.0" y="625" width="9" height="2" fill="#800000"/>
<rect x="814.0" y="691" width="9" height="2" fill="#800000"/>
<rect x="825.0" y="592" width="9" height="2" fill="#32cd32"/>
<rect x="825.0" y="625" width="9" height="2" fill="#800000"/>
<rect x="825.0" y="691" width="9" height="2" fill="#800000"/>
<rect x="836.0" y="592" width="9" height="2" fill="#32cd32"/>
<rect x="836.0" y="625" width="9" height="2" fill="#800000"/>
<rect x="836.0" y="691" width="9" height="2" fill="#800000"/>
<rect x="847.0" y="592" width="9" height="2" fill="#ffff28"/>
<rect x="847.0" y="625" width="9" height="2" fill="#800000"/>
<rect x="847.0" y="691" width="9" height="2" fill="#800000"/>
<rect x="858.0" y="592" width="9" height="2" fill="#ffff28"/>
<rect x="858.0" y="625" width="9" height="2" fill="#cc5a24"/>
<rect x="858.0" y="691" width="9" height="2" fill="#cc5a24"/>
<rect x="869.0" y="592" width="9" height="2" fill="#ee0000"/>
<rect x="869.0" y="625" width="9" height="2" fill="#daa520"/>
<rect x="869.0" y="691" width="9" height="2" fill="#daa520"/>
<rect x="880.0" y="592" width="9" height="2" fill="#ee0000"/>
<rect x="880.0" y="625" width="9" height="2" fill="#800000"/>
<rect x="880.0" y="691" width="9" height="2" fill="#800000"/>
<rect x="891.0" y="592" width="9" height="2" fill="#ffff28"/>
<rect x="891.0" y="625" width="9" height="2" fill="#800000"/>
<rect x="891.0" y="691" width="9" height="2" fill="#800000"/>
<rect x="902.0" y="592" width="9" height="2" fill="#ffff28"/>
<rect x="902.0" y="625" width="9" height="2" fill="#800000"/>
<rect x="902.0" y="691" width="9" height="2" fill="#800000"/>
<rect x="913.0" y="592" width="9" height="2" fill="#ffff28"/>
<rect x="913.0" y="625" width="9" height="2" fill="#800000"/>
<rect x="913.0" y="691" width="9" height="2" fill="#800000"/>
<rect x="924.0" y="592" width="9" height="2" fill="#32cd32"/>
<rect x="924.0" y="625" width="9" height="2" fill="#800000"/>
<rect x="924.0" y="691" width="9" height="2" fill="#800000"/>
<rect x="935.0" y="592" width="9" height="2" fill="#32cd32"/>
<rect x="935.0" y="625" width="9" height="2" fill="#800000"/>
<rect x="935.0" y="691" width="9" height="2" fill="#800000"/>
<rect x="946.0" y="592" width="9" height="2" fill="#32cd32"/>
<rect x="946.0" y="625" width="9" height="2" fill="#800000"/>
<rect x="946.0" y="691" width="9" height="2" fill="#800000"/>
<rect x="957.0" y="592" width="9" height="2" fill="#32cd32"/>
<rect x="957.0" y="625" width="9" height="2" fill="#800000"/>
<rect x="957.0" y="691" width="9" height="2" fill="#800000"/>
<rect x="968.0" y="592" width="9" height="2" fill="#32cd32"/>
<rect x="968.0" y="625" width="9" height="2" fill="#800000"/>
<rect x="968.0" y="691" width="9" height="2" fill="#800000"/>
<rect x="979.0" y="592" width="9" height="2" fill="#32cd32"/>
<rect x="979.0" y="625" width="9" height="2" fill="#800000"/>
<rect x="979.0" y="691" width="9" height="2" fill="#800000"/>
<rect x="990.0" y="592" width="9" height="2" fill="#32cd32"/>
<rect x="990.0" y="625" width="9" height="2" fill="#800000"/>
<rect x="990.0" y="691" width="9" height="2" fill="#800000"/>
<rect x="1001.0" y="592" width="9" height="2" fill="#32cd32"/>
<rect x="1001.0" y="625" width="9" height="2" fill="#800000"/>
<rect x="1001.0" y="691" width="9" height="2" fill="#800000"/>
<rect x="1012.0" y="592" width="9" height="2" fill="#32cd32"/>
<rect x="1012.0" y="625" width="9" height="2" fill="#800000"/>
<rect x="1012.0" y="691" width="9" height="2" fill="#800000"/>
<rect x="1023.0" y="592" width="9" height="2" fill="#ee0000"/>
<rect x="1023.0" y="625" width="9" height="2" fill="#800000"/>
<rect x="1023.0" y="691" width="9" height="2" fill="#800000"/>
<rect x="1034.0" y="592" width="9" height="2" fill="#ee0000"/>
<rect x="1034.0" y="625" width="9" height="2" fill="#800000"/>
<rect x="1034.0" y="691" width="9" height="2" fill="#800000"/>
<rect x="1045.0" y="592" width="9" height="2" fill="#ee0000"/>
<rect x="1045.0" y="625" width="9" height="2" fill="#800000"/>
<rect x="1045.0" y="691" width="9" height="2" fill="#800000"/>
<rect x="1056.0" y="592" width="9" height="2" fill="#ee0000"/>
<rect x="1056.0" y="625" width="9" height="2" fill="#48e0e4"/>
<rect x="1056.0" y="691" width="9" height="2" fill="#48e0e4"/>
<rect x="1067.0" y="592" width="9" height="2" fill="#ee0000"/>
<rect x="1067.0" y="625" width="9" height="2" fill="#48e0e4"/>
<rect x="1067.0" y="691" width="9" height="2" fill="#48e0e4"/>
<rect x="1078.0" y="592" width="9" height="2" fill="#32cd32"/>
<rect x="1078.0" y="625" width="9" height="2" fill="#48e0e4"/>
<rect x="1078.0" y="691" width="9" height="2" fill="#48e0e4"/>
<rect x="1089.0" y="592" width="9" height="2" fill="#32cd32"/>
<rect x="1089.0" y="625" width="9" height="2" fill="#48e0e4"/>
<rect x="1089.0" y="691" width="9" height="2" fill="#48e0e4"/>
<rect x="1100.0" y="592" width="9" height="2" fill="#32cd32"/>
<rect x="1100.0" y="625" width="9" height="2" fill="#48e0e4"/>
<rect x="1100.0" y="691" width="9" height="2" fill="#48e0e4"/>
<rect x="1111.0" y="592" width="9" height="2" fill="#32cd32"/>
<rect x="1111.0" y="625" width="9" height="2" fill="#48e0e4"/>
<rect x="1111.0" y="691" width="9" height="2" fill="#48e0e4"/>
<rect x="1122.0" y="592" width="9" height="2" fill="#32cd32"/>
<rect x="1122.0" y="625" width="9" height="2" fill="#48e0e4"/>
<rect x="1122.0" y="691" width="9" height="2" fill="#48e0e4"/>
<rect x="1133.0" y="592" width="9" height="2" fill="#32cd32"/>
<rect x="1133.0" y="625" width="9" height="2" fill="#48e0e4"/>
<rect x="1133.0" y="691" width="9" height="2" fill="#48e0e4"/>
<rect x="1144.0" y="592" width="9" height="2" fill="#32cd32"/>
<rect x="1144.0" y="625" width="9" height="2" fill="#48e0e4"/>
<rect x="1144.0" y="691" width="9" height="2" fill="#48e0e4"/>
<rect x="1155.0" y="592" width="9" height="2" fill="#32cd32"/>
<rect x="1155.0" y="625" width="9" height="2" fill="#48e0e4"/>
<rect x="1155.0" y="691" width="9" height="2" fill="#48e0e4"/>
<rect x="1166.0" y="592" width="9" height="2" fill="#32cd32"/>
<rect x="1166.0" y="625" width="9" height="2" fill="#48e0e4"/>
<rect x="1166.0" y="691" width="9" height="2" fill="#48e0e4"/>
<rect x="1177.0" y="592" width="9" height="2" fill="#32cd32"/>
<rect x="1177.0" y="625" width="9" height="2" fill="#48e0e4"/>
<rect x="1177.0" y="691" width="9" height="2" fill="#48e0e4"/>
<rect x="1188.0" y="592" width="9" height="2" fill="#ffff28"/>
<rect x="1188.0" y="625" width="9" height="2" fill="#ffff28"/>
<rect x="1188.0" y="691" width="9" height="2" fill="#ffff28"/>
<rect x="1199.0" y="592" width="9" height="2" fill="#ee0000"/>
<rect x="1199.0" y="625" width="9" height="2" fill="#800000"/>
<rect x="1199.0" y="691" width="9" height="2" fill="#800000"/>
<rect x="1210.0" y="592" width="9" height="2" fill="#ee0000"/>
<rect x="1210.0" y="625" width="9" height="2" fill="#ffff28"/>
<rect x="1210.0" y="691" width="9" height="2" fill="#ffff28"/>
<rect x="1221.0" y="592" width="9" height="2" fill="#ee0000"/>
<rect x="1221.0" y="625" width="9" height="2" fill="#48e0e4"/>
<rect x="1221.0" y="691" width="9" height="2" fill="#48e0e4"/>
</g>
<polyline clip-path="url(#k2)" fill="none" stroke="#e82020" stroke-width="1.1" points="15,701.5 26,697 37,693 48,688 59,633 70,608.5 81,625 92,641 103,607 114,589.5 125,596 136,595.5 147,600 158,605 169,615 180,632.5 191,635 202,640 213,642.5 224,647.5 235,650.5 246,652.5 257,582.5 268,585 279,600 290,618.7 301,625.5 312,622.5 323,627 334,635 345,638 356,652.5 367,665 378,678.75 389,690 400,710.4 411,705.5 422,696.25 433,697.5 444,683.25 455,693.75 466,692.5 477,678.25 488,678.25 499,682.5 510,645 521,613.75 532,605.75 543,637 554,645.5 565,621.5 576,626.25 587,643.75 598,647.5 609,643.5 620,644.5 631,638.75 642,684.5 653,676.75 664,662.5 675,606.25 686,600.5 697,587.5 708,607.5 719,630.5 730,633.75 741,656.25 752,658 763,658 774,685 785,713.3 796,740 807,740 818,711 829,700 840,688.75 851,677.5 862,668.75 873,662.5 884,655 895,670 906,682.5 917,686.25 928,691.25 939,721.6 950,750 961,750 972,735 983,703 994,686.25 1005,682 1016,668.75 1027,668.75 1038,658.75 1049,640 1060,590.5 1071,592.5 1082,601.25 1093,615 1104,630.5 1115,634.5 1126,638 1137,641.25 1148,641.25 1159,641.25 1170,645 1181,655 1192,690 1203,730.8 1214,715.4 1225,684"/>
<g class="c">
<rect x="12" y="657" width="6" height="6" fill="#1a721a"/>
<rect x="13" y="659.5" width="4" height="1" fill="#fff"/>
<rect x="14.5" y="658" width="1" height="4" fill="#fff"/>
<rect x="23" y="657" width="6" height="6" fill="#1a721a"/>
<rect x="24" y="659.5" width="4" height="1" fill="#fff"/>
<rect x="25.5" y="658" width="1" height="4" fill="#fff"/>
<rect x="34" y="657" width="6" height="6" fill="#1a721a"/>
<rect x="35" y="659.5" width="4" height="1" fill="#fff"/>
<rect x="36.5" y="658" width="1" height="4" fill="#fff"/>
<rect x="45" y="657" width="6" height="6" fill="#1a721a"/>
<rect x="46" y="659.5" width="4" height="1" fill="#fff"/>
<rect x="47.5" y="658" width="1" height="4" fill="#fff"/>
<rect x="56" y="657" width="6" height="6" fill="#1a721a"/>
<rect x="57" y="659.5" width="4" height="1" fill="#fff"/>
<rect x="58.5" y="658" width="1" height="4" fill="#fff"/>
<rect x="67" y="657" width="6" height="6" fill="#1a721a"/>
<rect x="68" y="659.5" width="4" height="1" fill="#fff"/>
<rect x="69.5" y="658" width="1" height="4" fill="#fff"/>
<rect x="78" y="657" width="6" height="6" fill="#1a721a"/>
<rect x="79" y="659.5" width="4" height="1" fill="#fff"/>
<rect x="80.5" y="658" width="1" height="4" fill="#fff"/>
<rect x="89" y="657" width="6" height="6" fill="#1a721a"/>
<rect x="90" y="659.5" width="4" height="1" fill="#fff"/>
<rect x="91.5" y="658" width="1" height="4" fill="#fff"/>
<rect x="100" y="657" width="6" height="6" fill="#1a721a"/>
<rect x="101" y="659.5" width="4" height="1" fill="#fff"/>
<rect x="102.5" y="658" width="1" height="4" fill="#fff"/>
<rect x="111" y="657" width="6" height="6" fill="#1a721a"/>
<rect x="112" y="659.5" width="4" height="1" fill="#fff"/>
<rect x="113.5" y="658" width="1" height="4" fill="#fff"/>
<rect x="122" y="657" width="6" height="6" fill="#1a721a"/>
<rect x="123" y="659.5" width="4" height="1" fill="#fff"/>
<rect x="124.5" y="658" width="1" height="4" fill="#fff"/>
<rect x="133" y="657" width="6" height="6" fill="#1a721a"/>
<rect x="134" y="659.5" width="4" height="1" fill="#fff"/>
<rect x="135.5" y="658" width="1" height="4" fill="#fff"/>
<rect x="144" y="657" width="6" height="6" fill="#1a721a"/>
<rect x="145" y="659.5" width="4" height="1" fill="#fff"/>
<rect x="146.5" y="658" width="1" height="4" fill="#fff"/>
<rect x="155" y="657" width="6" height="6" fill="#1a721a"/>
<rect x="156" y="659.5" width="4" height="1" fill="#fff"/>
<rect x="157.5" y="658" width="1" height="4" fill="#fff"/>
<rect x="166" y="657" width="6" height="6" fill="#1a721a"/>
<rect x="167" y="659.5" width="4" height="1" fill="#fff"/>
<rect x="168.5" y="658" width="1" height="4" fill="#fff"/>
<rect x="177" y="657" width="6" height="6" fill="#1a721a"/>
<rect x="178" y="659.5" width="4" height="1" fill="#fff"/>
<rect x="179.5" y="658" width="1" height="4" fill="#fff"/>
<rect x="188" y="657" width="6" height="6" fill="#1a721a"/>
<rect x="189" y="659.5" width="4" height="1" fill="#fff"/>
<rect x="190.5" y="658" width="1" height="4" fill="#fff"/>
<rect x="199" y="657" width="6" height="6" fill="#da1424"/>
<rect x="200" y="659.5" width="4" height="1" fill="#fff"/>
<rect x="210" y="657" width="6" height="6" fill="#da1424"/>
<rect x="211" y="659.5" width="4" height="1" fill="#fff"/>
<rect x="221" y="657" width="6" height="6" fill="#da1424"/>
<rect x="222" y="659.5" width="4" height="1" fill="#fff"/>
<rect x="232" y="657" width="6" height="6" fill="#da1424"/>
<rect x="233" y="659.5" width="4" height="1" fill="#fff"/>
<rect x="243" y="657" width="6" height="6" fill="#da1424"/>
<rect x="244" y="659.5" width="4" height="1" fill="#fff"/>
<rect x="254" y="657" width="6" height="6" fill="#1a721a"/>
<rect x="255" y="659.5" width="4" height="1" fill="#fff"/>
<rect x="256.5" y="658" width="1" height="4" fill="#fff"/>
<rect x="265" y="657" width="6" height="6" fill="#1a721a"/>
<rect x="266" y="659.5" width="4" height="1" fill="#fff"/>
<rect x="267.5" y="658" width="1" height="4" fill="#fff"/>
<rect x="276" y="657" width="6" height="6" fill="#1a721a"/>
<rect x="277" y="659.5" width="4" height="1" fill="#fff"/>
<rect x="278.5" y="658" width="1" height="4" fill="#fff"/>
<rect x="287" y="657" width="6" height="6" fill="#1a721a"/>
<rect x="288" y="659.5" width="4" height="1" fill="#fff"/>
<rect x="289.5" y="658" width="1" height="4" fill="#fff"/>
<rect x="298" y="657" width="6" height="6" fill="#1a721a"/>
<rect x="299" y="659.5" width="4" height="1" fill="#fff"/>
<rect x="300.5" y="658" width="1" height="4" fill="#fff"/>
<rect x="309" y="657" width="6" height="6" fill="#1a721a"/>
<rect x="310" y="659.5" width="4" height="1" fill="#fff"/>
<rect x="311.5" y="658" width="1" height="4" fill="#fff"/>
<rect x="320" y="657" width="6" height="6" fill="#1a721a"/>
<rect x="321" y="659.5" width="4" height="1" fill="#fff"/>
<rect x="322.5" y="658" width="1" height="4" fill="#fff"/>
<rect x="331" y="657" width="6" height="6" fill="#da1424"/>
<rect x="332" y="659.5" width="4" height="1" fill="#fff"/>
<rect x="342" y="657" width="6" height="6" fill="#da1424"/>
<rect x="343" y="659.5" width="4" height="1" fill="#fff"/>
<rect x="353" y="657" width="6" height="6" fill="#da1424"/>
<rect x="354" y="659.5" width="4" height="1" fill="#fff"/>
<rect x="364" y="657" width="6" height="6" fill="#da1424"/>
<rect x="365" y="659.5" width="4" height="1" fill="#fff"/>
<rect x="375" y="657" width="6" height="6" fill="#da1424"/>
<rect x="376" y="659.5" width="4" height="1" fill="#fff"/>
<rect x="386" y="657" width="6" height="6" fill="#da1424"/>
<rect x="387" y="659.5" width="4" height="1" fill="#fff"/>
<rect x="397" y="657" width="6" height="6" fill="#da1424"/>
<rect x="398" y="659.5" width="4" height="1" fill="#fff"/>
<rect x="408" y="657" width="6" height="6" fill="#da1424"/>
<rect x="409" y="659.5" width="4" height="1" fill="#fff"/>
<rect x="419" y="657" width="6" height="6" fill="#da1424"/>
<rect x="420" y="659.5" width="4" height="1" fill="#fff"/>
<rect x="430" y="657" width="6" height="6" fill="#da1424"/>
<rect x="431" y="659.5" width="4" height="1" fill="#fff"/>
<rect x="441" y="657" width="6" height="6" fill="#da1424"/>
<rect x="442" y="659.5" width="4" height="1" fill="#fff"/>
<rect x="452" y="657" width="6" height="6" fill="#da1424"/>
<rect x="453" y="659.5" width="4" height="1" fill="#fff"/>
<rect x="463" y="657" width="6" height="6" fill="#da1424"/>
<rect x="464" y="659.5" width="4" height="1" fill="#fff"/>
<rect x="474" y="657" width="6" height="6" fill="#da1424"/>
<rect x="475" y="659.5" width="4" height="1" fill="#fff"/>
<rect x="485" y="657" width="6" height="6" fill="#da1424"/>
<rect x="486" y="659.5" width="4" height="1" fill="#fff"/>
<rect x="496" y="657" width="6" height="6" fill="#1a721a"/>
<rect x="497" y="659.5" width="4" height="1" fill="#fff"/>
<rect x="498.5" y="658" width="1" height="4" fill="#fff"/>
<rect x="507" y="657" width="6" height="6" fill="#1a721a"/>
<rect x="508" y="659.5" width="4" height="1" fill="#fff"/>
<rect x="509.5" y="658" width="1" height="4" fill="#fff"/>
<rect x="518" y="657" width="6" height="6" fill="#1a721a"/>
<rect x="519" y="659.5" width="4" height="1" fill="#fff"/>
<rect x="520.5" y="658" width="1" height="4" fill="#fff"/>
<rect x="529" y="657" width="6" height="6" fill="#1a721a"/>
<rect x="530" y="659.5" width="4" height="1" fill="#fff"/>
<rect x="531.5" y="658" width="1" height="4" fill="#fff"/>
<rect x="540" y="657" width="6" height="6" fill="#1a721a"/>
<rect x="541" y="659.5" width="4" height="1" fill="#fff"/>
<rect x="542.5" y="658" width="1" height="4" fill="#fff"/>
<rect x="551" y="657" width="6" height="6" fill="#1a721a"/>
<rect x="552" y="659.5" width="4" height="1" fill="#fff"/>
<rect x="553.5" y="658" width="1" height="4" fill="#fff"/>
<rect x="562" y="657" width="6" height="6" fill="#1a721a"/>
<rect x="563" y="659.5" width="4" height="1" fill="#fff"/>
<rect x="564.5" y="658" width="1" height="4" fill="#fff"/>
<rect x="573" y="657" width="6" height="6" fill="#1a721a"/>
<rect x="574" y="659.5" width="4" height="1" fill="#fff"/>
<rect x="575.5" y="658" width="1" height="4" fill="#fff"/>
<rect x="584" y="657" width="6" height="6" fill="#1a721a"/>
<rect x="585" y="659.5" width="4" height="1" fill="#fff"/>
<rect x="586.5" y="658" width="1" height="4" fill="#fff"/>
<rect x="595" y="657" width="6" height="6" fill="#1a721a"/>
<rect x="596" y="659.5" width="4" height="1" fill="#fff"/>
<rect x="597.5" y="658" width="1" height="4" fill="#fff"/>
<rect x="606" y="657" width="6" height="6" fill="#1a721a"/>
<rect x="607" y="659.5" width="4" height="1" fill="#fff"/>
<rect x="608.5" y="658" width="1" height="4" fill="#fff"/>
<rect x="617" y="657" width="6" height="6" fill="#1a721a"/>
<rect x="618" y="659.5" width="4" height="1" fill="#fff"/>
<rect x="619.5" y="658" width="1" height="4" fill="#fff"/>
<rect x="628" y="657" width="6" height="6" fill="#da1424"/>
<rect x="629" y="659.5" width="4" height="1" fill="#fff"/>
<rect x="639" y="657" width="6" height="6" fill="#da1424"/>
<rect x="640" y="659.5" width="4" height="1" fill="#fff"/>
<rect x="650" y="657" width="6" height="6" fill="#da1424"/>
<rect x="651" y="659.5" width="4" height="1" fill="#fff"/>
<rect x="661" y="657" width="6" height="6" fill="#1a721a"/>
<rect x="662" y="659.5" width="4" height="1" fill="#fff"/>
<rect x="663.5" y="658" width="1" height="4" fill="#fff"/>
<rect x="672" y="657" width="6" height="6" fill="#1a721a"/>
<rect x="673" y="659.5" width="4" height="1" fill="#fff"/>
<rect x="674.5" y="658" width="1" height="4" fill="#fff"/>
<rect x="683" y="657" width="6" height="6" fill="#1a721a"/>
<rect x="684" y="659.5" width="4" height="1" fill="#fff"/>
<rect x="685.5" y="658" width="1" height="4" fill="#fff"/>
<rect x="694" y="657" width="6" height="6" fill="#1a721a"/>
<rect x="695" y="659.5" width="4" height="1" fill="#fff"/>
<rect x="696.5" y="658" width="1" height="4" fill="#fff"/>
<rect x="705" y="657" width="6" height="6" fill="#1a721a"/>
<rect x="706" y="659.5" width="4" height="1" fill="#fff"/>
<rect x="707.5" y="658" width="1" height="4" fill="#fff"/>
<rect x="716" y="657" width="6" height="6" fill="#1a721a"/>
<rect x="717" y="659.5" width="4" height="1" fill="#fff"/>
<rect x="718.5" y="658" width="1" height="4" fill="#fff"/>
<rect x="727" y="657" width="6" height="6" fill="#da1424"/>
<rect x="728" y="659.5" width="4" height="1" fill="#fff"/>
<rect x="738" y="657" width="6" height="6" fill="#da1424"/>
<rect x="739" y="659.5" width="4" height="1" fill="#fff"/>
<rect x="749" y="657" width="6" height="6" fill="#da1424"/>
<rect x="750" y="659.5" width="4" height="1" fill="#fff"/>
<rect x="760" y="657" width="6" height="6" fill="#da1424"/>
<rect x="761" y="659.5" width="4" height="1" fill="#fff"/>
<rect x="771" y="657" width="6" height="6" fill="#da1424"/>
<rect x="772" y="659.5" width="4" height="1" fill="#fff"/>
<rect x="782" y="657" width="6" height="6" fill="#da1424"/>
<rect x="783" y="659.5" width="4" height="1" fill="#fff"/>
<rect x="793" y="657" width="6" height="6" fill="#da1424"/>
<rect x="794" y="659.5" width="4" height="1" fill="#fff"/>
<rect x="804" y="657" width="6" height="6" fill="#da1424"/>
<rect x="805" y="659.5" width="4" height="1" fill="#fff"/>
<rect x="815" y="657" width="6" height="6" fill="#da1424"/>
<rect x="816" y="659.5" width="4" height="1" fill="#fff"/>
<rect x="826" y="657" width="6" height="6" fill="#da1424"/>
<rect x="827" y="659.5" width="4" height="1" fill="#fff"/>
<rect x="837" y="657" width="6" height="6" fill="#da1424"/>
<rect x="838" y="659.5" width="4" height="1" fill="#fff"/>
<rect x="848" y="657" width="6" height="6" fill="#da1424"/>
<rect x="849" y="659.5" width="4" height="1" fill="#fff"/>
<rect x="859" y="657" width="6" height="6" fill="#1a721a"/>
<rect x="860" y="659.5" width="4" height="1" fill="#fff"/>
<rect x="861.5" y="658" width="1" height="4" fill="#fff"/>
<rect x="870" y="657" width="6" height="6" fill="#1a721a"/>
<rect x="871" y="659.5" width="4" height="1" fill="#fff"/>
<rect x="872.5" y="658" width="1" height="4" fill="#fff"/>
<rect x="881" y="657" width="6" height="6" fill="#1a721a"/>
<rect x="882" y="659.5" width="4" height="1" fill="#fff"/>
<rect x="883.5" y="658" width="1" height="4" fill="#fff"/>
<rect x="892" y="657" width="6" height="6" fill="#da1424"/>
<rect x="893" y="659.5" width="4" height="1" fill="#fff"/>
<rect x="903" y="657" width="6" height="6" fill="#da1424"/>
<rect x="904" y="659.5" width="4" height="1" fill="#fff"/>
<rect x="914" y="657" width="6" height="6" fill="#1a721a"/>
<rect x="915" y="659.5" width="4" height="1" fill="#fff"/>
<rect x="916.5" y="658" width="1" height="4" fill="#fff"/>
<rect x="925" y="657" width="6" height="6" fill="#da1424"/>
<rect x="926" y="659.5" width="4" height="1" fill="#fff"/>
<rect x="936" y="657" width="6" height="6" fill="#da1424"/>
<rect x="937" y="659.5" width="4" height="1" fill="#fff"/>
<rect x="947" y="657" width="6" height="6" fill="#da1424"/>
<rect x="948" y="659.5" width="4" height="1" fill="#fff"/>
<rect x="958" y="657" width="6" height="6" fill="#da1424"/>
<rect x="959" y="659.5" width="4" height="1" fill="#fff"/>
<rect x="969" y="657" width="6" height="6" fill="#da1424"/>
<rect x="970" y="659.5" width="4" height="1" fill="#fff"/>
<rect x="980" y="657" width="6" height="6" fill="#da1424"/>
<rect x="981" y="659.5" width="4" height="1" fill="#fff"/>
<rect x="991" y="657" width="6" height="6" fill="#1a721a"/>
<rect x="992" y="659.5" width="4" height="1" fill="#fff"/>
<rect x="993.5" y="658" width="1" height="4" fill="#fff"/>
<rect x="1002" y="657" width="6" height="6" fill="#1a721a"/>
<rect x="1003" y="659.5" width="4" height="1" fill="#fff"/>
<rect x="1004.5" y="658" width="1" height="4" fill="#fff"/>
<rect x="1013" y="657" width="6" height="6" fill="#1a721a"/>
<rect x="1014" y="659.5" width="4" height="1" fill="#fff"/>
<rect x="1015.5" y="658" width="1" height="4" fill="#fff"/>
<rect x="1024" y="657" width="6" height="6" fill="#1a721a"/>
<rect x="1025" y="659.5" width="4" height="1" fill="#fff"/>
<rect x="1026.5" y="658" width="1" height="4" fill="#fff"/>
<rect x="1035" y="657" width="6" height="6" fill="#1a721a"/>
<rect x="1036" y="659.5" width="4" height="1" fill="#fff"/>
<rect x="1037.5" y="658" width="1" height="4" fill="#fff"/>
<rect x="1046" y="657" width="6" height="6" fill="#1a721a"/>
<rect x="1047" y="659.5" width="4" height="1" fill="#fff"/>
<rect x="1048.5" y="658" width="1" height="4" fill="#fff"/>
<rect x="1057" y="657" width="6" height="6" fill="#1a721a"/>
<rect x="1058" y="659.5" width="4" height="1" fill="#fff"/>
<rect x="1059.5" y="658" width="1" height="4" fill="#fff"/>
<rect x="1068" y="657" width="6" height="6" fill="#1a721a"/>
<rect x="1069" y="659.5" width="4" height="1" fill="#fff"/>
<rect x="1070.5" y="658" width="1" height="4" fill="#fff"/>
<rect x="1079" y="657" width="6" height="6" fill="#1a721a"/>
<rect x="1080" y="659.5" width="4" height="1" fill="#fff"/>
<rect x="1081.5" y="658" width="1" height="4" fill="#fff"/>
<rect x="1090" y="657" width="6" height="6" fill="#1a721a"/>
<rect x="1091" y="659.5" width="4" height="1" fill="#fff"/>
<rect x="1092.5" y="658" width="1" height="4" fill="#fff"/>
<rect x="1101" y="657" width="6" height="6" fill="#1a721a"/>
<rect x="1102" y="659.5" width="4" height="1" fill="#fff"/>
<rect x="1103.5" y="658" width="1" height="4" fill="#fff"/>
<rect x="1112" y="657" width="6" height="6" fill="#1a721a"/>
<rect x="1113" y="659.5" width="4" height="1" fill="#fff"/>
<rect x="1114.5" y="658" width="1" height="4" fill="#fff"/>
<rect x="1123" y="657" width="6" height="6" fill="#1a721a"/>
<rect x="1124" y="659.5" width="4" height="1" fill="#fff"/>
<rect x="1125.5" y="658" width="1" height="4" fill="#fff"/>
<rect x="1134" y="657" width="6" height="6" fill="#1a721a"/>
<rect x="1135" y="659.5" width="4" height="1" fill="#fff"/>
<rect x="1136.5" y="658" width="1" height="4" fill="#fff"/>
<rect x="1145" y="657" width="6" height="6" fill="#1a721a"/>
<rect x="1146" y="659.5" width="4" height="1" fill="#fff"/>
<rect x="1147.5" y="658" width="1" height="4" fill="#fff"/>
<rect x="1156" y="657" width="6" height="6" fill="#da1424"/>
<rect x="1157" y="659.5" width="4" height="1" fill="#fff"/>
<rect x="1167" y="657" width="6" height="6" fill="#da1424"/>
<rect x="1168" y="659.5" width="4" height="1" fill="#fff"/>
<rect x="1178" y="657" width="6" height="6" fill="#da1424"/>
<rect x="1179" y="659.5" width="4" height="1" fill="#fff"/>
<rect x="1189" y="657" width="6" height="6" fill="#da1424"/>
<rect x="1190" y="659.5" width="4" height="1" fill="#fff"/>
<rect x="1200" y="657" width="6" height="6" fill="#da1424"/>
<rect x="1201" y="659.5" width="4" height="1" fill="#fff"/>
<rect x="1211" y="657" width="6" height="6" fill="#da1424"/>
<rect x="1212" y="659.5" width="4" height="1" fill="#fff"/>
<rect x="1222" y="657" width="6" height="6" fill="#da1424"/>
<rect x="1223" y="659.5" width="4" height="1" fill="#fff"/>
</g>
<polyline clip-path="url(#k2)" fill="none" stroke="#000" stroke-width="2.25" stroke-linejoin="round" points="15,688 26,686 37,689 48,688 59,676 70,666.7 81,670 92,674.5 103,659.5 114,643.7 125,635.7 136,620 147,608.7 158,600.5 169,602.5 180,619.5 191,619.5 202,623.7 213,626 224,630 235,632.5 246,632.5 257,601 268,594 279,595.5 290,600.5 301,602.5 312,598.25 323,601.25 334,608.75 345,611.75 356,623.75 367,630.5 378,635.5 389,637.5 400,642.5 411,643.25 422,644.5 433,648 444,645.5 455,652.5 466,653.5 477,648.5 488,650.5 499,652.5 510,645.5 521,641.5 532,639.5 543,646.25 554,648.5 565,642.5 576,642.5 587,647.5 598,650 609,648.5 620,648 631,647 642,659.5 653,657.5 664,654.5 675,642.5 686,639.5 697,628.5 708,630.5 719,638.5 730,638.5 741,651.25 752,651.25 763,651.25 774,662.5 785,687 796,711 807,735 818,760 829,760 840,750 851,702 862,686.25 873,681.25 884,673.5 895,692.5 906,708.4 917,730 928,740 939,745 950,745 961,745 972,740 983,735 994,730 1005,725 1016,715 1027,702.3 1038,695 1049,683.75 1060,650 1071,637.5 1082,631.75 1093,632.5 1104,640.5 1115,638.5 1126,637.5 1137,639.5 1148,637.5 1159,635.5 1170,638.5 1181,643.75 1192,655 1203,660 1214,661.25 1225,652"/>
<rect class="c" x="1" y="570" width="49" height="13" fill="#ff0000"/>
<g class="c" fill="none" stroke="#000" stroke-width="1">
<rect x="0.5" y="27.5" width="1279" height="720"/>
<line x1="0" y1="441.5" x2="1280" y2="441.5"/><line x1="0" y1="545.5" x2="1280" y2="545.5"/>
<line x1="1233.5" y1="32" x2="1233.5" y2="702"/>
<line x1="1" y1="702.5" x2="1234" y2="702.5"/>
<line x1="16.5" y1="702" x2="16.5" y2="709"/>
<line x1="71.5" y1="702" x2="71.5" y2="709"/>
<line x1="126.5" y1="702" x2="126.5" y2="709"/>
<line x1="181.5" y1="702" x2="181.5" y2="709"/>
<line x1="236.5" y1="702" x2="236.5" y2="709"/>
<line x1="258.5" y1="702" x2="258.5" y2="709"/>
<line x1="269.5" y1="702" x2="269.5" y2="709"/>
<line x1="324.5" y1="702" x2="324.5" y2="709"/>
<line x1="379.5" y1="702" x2="379.5" y2="709"/>
<line x1="434.5" y1="702" x2="434.5" y2="709"/>
<line x1="489.5" y1="702" x2="489.5" y2="709"/>
<line x1="544.5" y1="702" x2="544.5" y2="709"/>
<line x1="599.5" y1="702" x2="599.5" y2="709"/>
<line x1="654.5" y1="702" x2="654.5" y2="709"/>
<line x1="709.5" y1="702" x2="709.5" y2="709"/>
<line x1="764.5" y1="702" x2="764.5" y2="709"/>
<line x1="819.5" y1="702" x2="819.5" y2="709"/>
<line x1="874.5" y1="702" x2="874.5" y2="709"/>
<line x1="929.5" y1="702" x2="929.5" y2="709"/>
<line x1="984.5" y1="702" x2="984.5" y2="709"/>
<line x1="1039.5" y1="702" x2="1039.5" y2="709"/>
<line x1="1061.5" y1="702" x2="1061.5" y2="709"/>
<line x1="1072.5" y1="702" x2="1072.5" y2="709"/>
<line x1="1127.5" y1="702" x2="1127.5" y2="709"/>
<line x1="1182.5" y1="702" x2="1182.5" y2="709"/>
<line x1="1234" y1="57.5" x2="1240" y2="57.5"/>
<line x1="1234" y1="89.5" x2="1240" y2="89.5"/>
<line x1="1234" y1="121.5" x2="1240" y2="121.5"/>
<line x1="1234" y1="154.5" x2="1240" y2="154.5"/>
<line x1="1234" y1="186.5" x2="1240" y2="186.5"/>
<line x1="1234" y1="218.5" x2="1240" y2="218.5"/>
<line x1="1234" y1="250.5" x2="1240" y2="250.5"/>
<line x1="1234" y1="282.5" x2="1240" y2="282.5"/>
<line x1="1234" y1="314.5" x2="1240" y2="314.5"/>
<line x1="1234" y1="347.5" x2="1240" y2="347.5"/>
<line x1="1234" y1="379.5" x2="1240" y2="379.5"/>
<line x1="1234" y1="411.5" x2="1240" y2="411.5"/>
<line x1="1234" y1="460.5" x2="1240" y2="460.5"/>
<line x1="1234" y1="503.5" x2="1240" y2="503.5"/>
<line x1="1234" y1="561.5" x2="1240" y2="561.5"/>
<line x1="1234" y1="593.5" x2="1240" y2="593.5"/>
<line x1="1234" y1="626.5" x2="1240" y2="626.5"/>
<line x1="1234" y1="660.5" x2="1240" y2="660.5"/>
<line x1="1234" y1="692.5" x2="1240" y2="692.5"/>
</g>
<rect class="c" x="1242.5" y="449.5" width="12" height="12" fill="#fff" stroke="#000" stroke-width="1"/>
<rect class="c" x="1242.5" y="553.5" width="12" height="12" fill="#fff" stroke="#000" stroke-width="1"/>
<clipPath id="k3"><rect x="1234" y="186.5" width="46" height="20"/></clipPath><clipPath id="k4"><rect x="1234" y="658.5" width="46" height="20"/></clipPath><clipPath id="k5"><rect x="1234" y="693" width="46" height="20"/></clipPath>
<polygon points="1234.5,179.5 1240.5,173.0 1270.5,173.0 1270.5,186.0 1240.5,186.0" fill="#808080" stroke="#000" stroke-width="1"/>
<polygon points="1234.5,205.5 1240.5,199.0 1270.5,199.0 1270.5,212.0 1240.5,212.0" fill="#808080" stroke="#000" stroke-width="1"/>
<polygon points="1234.5,218.5 1240.5,212.0 1270.5,212.0 1270.5,225.0 1240.5,225.0" fill="#808080" stroke="#000" stroke-width="1"/>
<polygon points="1234.5,492 1240.5,485.5 1264.0,485.5 1264.0,498.5 1240.5,498.5" fill="#808080" stroke="#000" stroke-width="1"/>
<polygon points="1234.5,651.5 1240.5,645.0 1264.0,645.0 1264.0,658.0 1240.5,658.0" fill="#808080" stroke="#000" stroke-width="1"/>
<polygon points="1234.5,686 1240.5,679.5 1273.5,679.5 1273.5,692.5 1240.5,692.5" fill="#808080" stroke="#000" stroke-width="1"/>
<filter id="f0" x="0" y="0" width="1280" height="748" filterUnits="userSpaceOnUse"><feOffset dx="0" dy="0"/></filter><g filter="url(#f0)">
<text class="t" x="635" y="18.6" text-anchor="middle" xml:space="preserve">TF 12-10 (10 Range)  11.12.2009</text>
<text class="s" x="2" y="43.3" textLength="302.6">EMA(TF 12-10 (10 Range),34), EMA(TF 12-10 (10 Range),120)</text>
<text class="s" x="2" y="463.4">CCI(TF 12-10 (10 Range),50)</text>
<text class="s" x="2" y="566.4">WoodiesCCI(50,14)</text>
<text class="s" x="4.6" y="580.8" fill-opacity="0.7">13,8 Flat</text>
<text class="s" x="2" y="699.8">© 2011 NinjaTrader, LLC</text>
<text class="s" x="15.9" y="719.3" text-anchor="middle">19:47</text>
<text class="s" x="69.9" y="719.3" text-anchor="middle">20:22</text>
<text class="s" x="124.9" y="719.3" text-anchor="middle">21:02</text>
<text class="s" x="179.9" y="719.3" text-anchor="middle">21:39</text>
<text class="s" x="256.9" y="719.3" text-anchor="middle">12/10</text>
<text class="s" x="322.9" y="719.3" text-anchor="middle">15:37</text>
<text class="s" x="377.9" y="719.3" text-anchor="middle">15:58</text>
<text class="s" x="432.9" y="719.3" text-anchor="middle">16:07</text>
<text class="s" x="487.9" y="719.3" text-anchor="middle">16:17</text>
<text class="s" x="542.9" y="719.3" text-anchor="middle">16:36</text>
<text class="s" x="597.9" y="719.3" text-anchor="middle">16:48</text>
<text class="s" x="652.9" y="719.3" text-anchor="middle">17:33</text>
<text class="s" x="707.9" y="719.3" text-anchor="middle">18:08</text>
<text class="s" x="762.9" y="719.3" text-anchor="middle">19:01</text>
<text class="s" x="817.9" y="719.3" text-anchor="middle">19:30</text>
<text class="s" x="872.9" y="719.3" text-anchor="middle">20:30</text>
<text class="s" x="927.9" y="719.3" text-anchor="middle">21:19</text>
<text class="s" x="982.9" y="719.3" text-anchor="middle">21:38</text>
<text class="s" x="1059.9" y="719.3" text-anchor="middle">12/11</text>
<text class="s" x="1125.9" y="719.3" text-anchor="middle">15:37</text>
<text class="s" x="1180.9" y="719.3" text-anchor="middle">15:46</text>
<text x="1248.9" y="458.1" text-anchor="middle" style="font-size:8px;font-weight:bold">F</text>
<text x="1248.9" y="562.1" text-anchor="middle" style="font-size:8px;font-weight:bold">F</text>
<text class="s" x="1241" y="61.7">593,0</text>
<text class="s" x="1241" y="93.7">592,0</text>
<text class="s" x="1241" y="125.7">591,0</text>
<text class="s" x="1241" y="158.7">590,0</text>
<text class="s" x="1241" y="190.7" clip-path="url(#k3)">589,0</text>
<text class="s" x="1241" y="254.7">587,0</text>
<text class="s" x="1241" y="286.7">586,0</text>
<text class="s" x="1241" y="318.7">585,0</text>
<text class="s" x="1241" y="351.7">584,0</text>
<text class="s" x="1241" y="383.7">583,0</text>
<text class="s" x="1241" y="415.7">582,0</text>
<text class="s" x="1241" y="464.7">100</text>
<text class="s" x="1241" y="507.7">0</text>
<text class="s" x="1241" y="565.7">300</text>
<text class="s" x="1241" y="597.7">200</text>
<text class="s" x="1241" y="630.7">100</text>
<text class="s" x="1241" y="664.7" clip-path="url(#k4)">0</text>
<text class="s" x="1241" y="696.7" clip-path="url(#k5)">-100</text>
<text class="s" x="1241.7" y="183.5">589,2</text>
<text class="s" x="1241.7" y="209.5">588,4</text>
<text class="s" x="1241.7" y="222.5">588,0</text>
<text class="s" x="1241.7" y="496">26,1</text>
<text class="s" x="1241.7" y="655.5">26,1</text>
<text class="s" x="1241.7" y="690">-78,29</text>
</g>
</svg></body></html>
